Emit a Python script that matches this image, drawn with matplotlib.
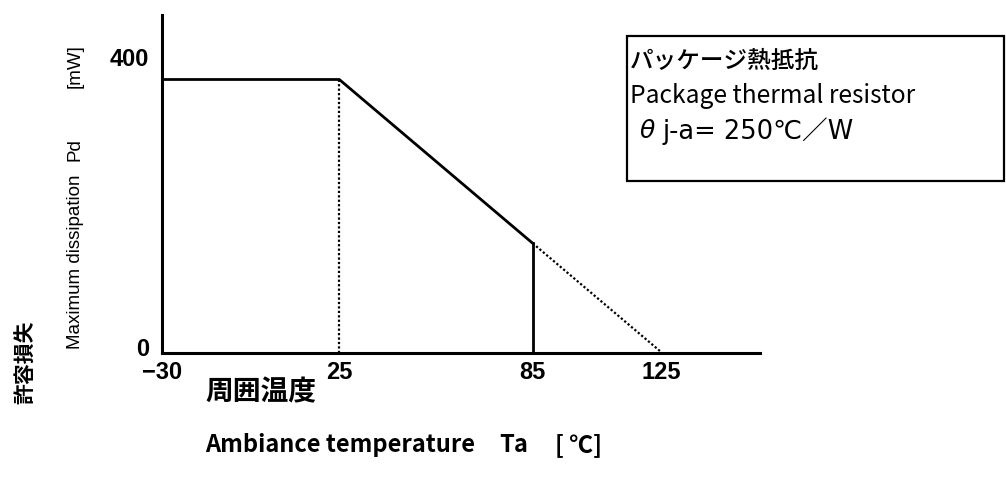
import matplotlib
matplotlib.use("Agg")
import matplotlib.pyplot as plt
import matplotlib.transforms as mtransforms
from matplotlib.patches import Rectangle

# Data
temp_solid = [-30, 25, 85]
pd_solid = [400, 400, 160]
temp_dotted = [85, 125]
pd_dotted = [160, 0]
x_ticks = [-30, 25, 85, 125]
x_tick_labels = ["\u221230", "25", "85", "125"]
y_ticks = [0, 400]
y_tick_labels = ["0", "400"]

JP = ["Noto Sans CJK JP", "DejaVu Sans"]
NUM = ["Liberation Sans", "DejaVu Sans"]

fig = plt.figure(figsize=(10.06, 4.79), dpi=100)
ax = fig.add_axes([162/1006, 1-352.5/479, (760-162)/1006, (352.5-15)/479])
ax.set_xlim(-30, 155.5)
ax.set_ylim(0, 494.5)

ax.plot(temp_solid, pd_solid, color="black", lw=2, solid_capstyle="butt", clip_on=False)
ax.plot(temp_dotted, pd_dotted, color="black", lw=1.6, ls=(0, (1, 1)))
ax.plot([25, 25], [0, 400], color="black", lw=1.6, ls=(0, (1, 1)))
ax.plot([85, 85], [0, 160], color="black", lw=2)

for s in ["top", "right"]:
    ax.spines[s].set_visible(False)
for s in ["left", "bottom"]:
    ax.spines[s].set_linewidth(2.2)

ax.set_xticks(x_ticks)
ax.set_xticklabels(x_tick_labels, family=NUM, fontsize=17, fontweight="bold")
ax.set_yticks(y_ticks)
ax.set_yticklabels(y_tick_labels, family=NUM, fontsize=17, fontweight="bold")
ax.tick_params(length=0)
ax.tick_params(axis="x", pad=6)
ax.tick_params(axis="y", pad=9)

# offsets for y tick labels (as in reference they sit higher)
offs = {"0": 5.5/100, "400": 22.5/100}
for lbl in ax.get_yticklabels():
    dy = offs.get(lbl.get_text(), 0)
    lbl.set_transform(lbl.get_transform() + mtransforms.ScaledTranslation(0, dy, fig.dpi_scale_trans))

# Y axis label parts
YL = ["Liberation Sans", "DejaVu Sans"]
fig.text(75/1006, 1-262/479, "Maximum dissipation", rotation=90,
         ha="center", va="center", fontsize=13.5, family=YL)
fig.text(75/1006, 1-150/479, "Pd", rotation=90,
         ha="center", va="center", fontsize=13.5, family=YL)
fig.text(75/1006, 1-66/479, "[mW]", rotation=90,
         ha="center", va="center", fontsize=13.5, family=YL)
fig.text(25/1006, 1-362/479, "許容損失", rotation=90, ha="center", va="center",
         fontsize=15, fontweight="bold", family=JP)

# X axis labels
fig.text(205/1006, 1-392/479, "周囲温度", ha="left", va="center",
         fontsize=20, fontweight="bold", family=JP)
fig.text(205/1006, 1-445/479, "Ambiance temperature", ha="left", va="center",
         fontsize=17, fontweight="bold", family=JP)
fig.text(499/1006, 1-445/479, "Ta", ha="left", va="center",
         fontsize=17, fontweight="bold", family=JP)
fig.text(555/1006, 1-445/479, "[ ℃]", ha="left", va="center",
         fontsize=17, fontweight="bold", family=JP)

# Box
fig.patches.append(Rectangle((627/1006, 1-181/479), (1004-627)/1006, (181-36)/479,
                             transform=fig.transFigure, fill=False, edgecolor="black", lw=1.6))
fig.text(630/1006, 1-61/479, "パッケージ熱抵抗", ha="left", va="center",
         fontsize=17, fontweight="medium", family=JP)
fig.text(630/1006, 1-96/479, "Package thermal resistor", ha="left", va="center",
         fontsize=17.7, family=JP)
yb = 1-131/479
fig.text(639/1006, yb, "$\\theta$", ha="left", va="center", fontsize=18, family=JP)
fig.text(662/1006, yb, "j-a= 250℃／W", ha="left", va="center", fontsize=18.5,
         family=["DejaVu Sans", "Noto Sans CJK JP"])

fig.savefig("out.png", dpi=100)
